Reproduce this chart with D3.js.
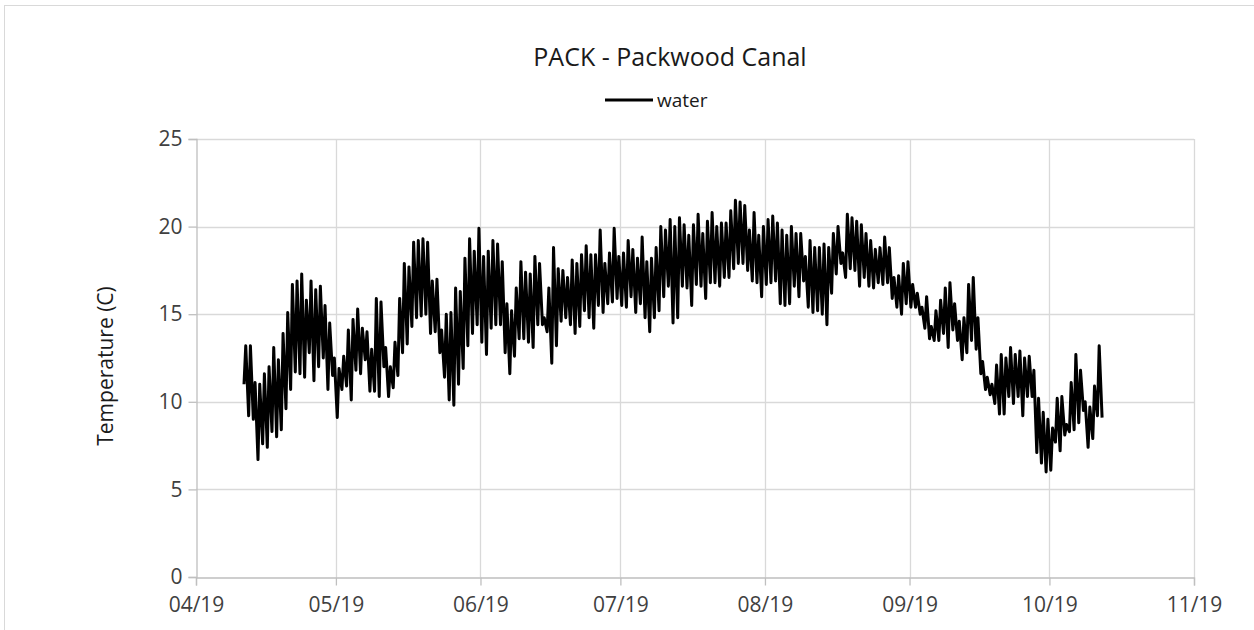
<!DOCTYPE html>
<html>
<head>
<meta charset="utf-8">
<script src="https://cdn.jsdelivr.net/npm/d3@7/dist/d3.min.js"></script>
<style>
  body { margin: 0; background: #fff; }
  svg { display: block; font-family: "Open Sans", sans-serif; }
</style>
</head>
<body>
<svg id="chart" width="1254" height="630"></svg>
<script>
// --- Data --------------------------------------------------
const chartTitle = "PACK - Packwood Canal";
const seriesName = "water";
const yTitle = "Temperature (C)";

// first logged day, then one morning low and one afternoon high per day
const firstDay = "2019-04-11";
const dailyLow = [
  11.0, 9.2, 9.0, 6.7, 7.6, 7.4, 8.3, 8.0, 8.4, 9.6, 10.7, 11.7, 11.6, 11.4, 12.8, 11.2, 12.0, 12.5, 10.7, 11.5,
  9.1, 10.7, 10.9, 10.1, 11.8, 11.6, 12.4, 10.6, 10.6, 10.3, 12.0, 10.3, 10.8, 11.5, 12.8, 13.3, 14.3, 14.8, 14.9, 15.0, 13.9, 14.0, 12.8, 11.4,
  10.1, 9.8, 11.0, 11.9, 13.2, 13.9, 14.4, 13.4, 12.7, 14.2, 14.4, 14.4, 12.8, 11.6, 12.6, 13.6, 13.6, 13.4, 13.1, 14.4, 14.4, 14.0,
  12.2, 13.2, 14.6, 14.8, 14.4, 13.9, 14.3, 15.2, 14.8, 14.2, 15.5, 15.1, 15.6, 15.7, 15.9, 15.5, 15.4, 16.0, 15.1, 15.6, 14.8, 14.0, 14.8, 15.2,
  16.0, 16.6, 14.5, 14.8, 16.6, 16.5, 15.5, 16.7, 16.6, 15.9, 16.8, 16.8, 16.6, 17.1, 17.1, 17.6, 17.9, 17.9, 17.5, 16.9, 16.8,
  16.0, 16.7, 16.8, 16.9, 15.6, 15.5, 15.6, 16.6, 16.0, 16.9, 15.4, 15.1, 15.2, 15.0, 14.4, 16.2, 17.3, 17.9, 17.1, 17.6, 17.5, 16.6,
  17.1, 16.6, 16.5, 16.8, 16.7, 16.8, 15.9, 15.4, 15.0, 15.6, 15.4, 15.4, 15.0, 14.2, 13.6, 13.5, 13.5, 13.9, 13.1, 14.1, 13.5, 12.4, 12.8,
  13.5, 13.0, 11.6, 10.7, 10.4, 9.9, 9.3, 9.3, 10.3, 9.9, 10.3, 9.2, 10.3, 10.3, 7.1, 6.5, 6.0, 6.1, 7.7, 7.2, 8.1, 8.3, 8.4, 8.8, 9.5, 7.4, 7.9, 9.2
];
const dailyHigh = [
  13.2, 13.2, 11.1, 11.0, 11.6, 12.0, 13.1, 12.4, 13.9, 15.1, 16.7, 16.9, 17.3, 15.8, 16.9, 16.4, 16.6, 15.5, 14.5, 12.5,
  11.9, 12.6, 14.1, 14.7, 15.3, 14.2, 14.0, 13.0, 15.9, 15.7, 13.1, 12.0, 13.4, 15.9, 17.9, 17.7, 19.1, 19.2, 19.3, 19.1, 16.9, 17.0, 14.1, 15.0,
  15.1, 16.5, 16.3, 18.2, 19.3, 18.6, 19.9, 18.3, 18.6, 19.2, 19.0, 18.0, 15.6, 15.2, 16.5, 18.0, 17.4, 17.3, 18.3, 17.9, 14.8, 16.5,
  18.8, 17.6, 17.5, 17.1, 18.1, 17.9, 18.4, 18.9, 18.4, 18.4, 19.8, 17.9, 18.5, 19.9, 18.3, 18.5, 19.2, 18.7, 18.2, 19.4, 18.0, 18.2, 18.8, 20.0,
  19.8, 20.4, 20.0, 20.5, 20.1, 19.5, 20.1, 20.7, 19.6, 20.3, 20.8, 20.0, 20.2, 20.2, 20.9, 21.5, 21.4, 21.2, 19.8, 20.8, 19.5,
  20.0, 20.4, 20.6, 20.2, 19.8, 19.5, 20.0, 19.6, 19.6, 18.3, 19.2, 18.8, 18.8, 19.0, 18.8, 19.6, 20.0, 18.5, 20.7, 20.5, 20.3, 20.1,
  19.6, 19.2, 18.7, 18.8, 19.4, 18.8, 17.1, 17.2, 17.9, 18.0, 16.7, 16.2, 15.4, 16.0, 14.3, 15.2, 15.8, 16.5, 16.8, 15.6, 14.6, 14.8, 16.7,
  17.1, 14.8, 12.3, 11.4, 11.0, 12.1, 12.7, 12.5, 13.1, 12.7, 12.9, 12.5, 12.6, 11.8, 10.2, 9.4, 9.0, 8.5, 10.2, 10.3, 8.7, 11.1, 12.7, 11.8, 10.0, 9.7, 10.9, 13.2
];
const lastReading = 9.1;

const yTicks = [0, 5, 10, 15, 20, 25];
const monthTicks = ["2019-04-01", "2019-05-01", "2019-06-01", "2019-07-01",
                    "2019-08-01", "2019-09-01", "2019-10-01", "2019-11-01"];

// --- Layout ----------------------------------------------
const plot = {left: 196, right: 1194, top: 139, bottom: 577};
const parse = d3.timeParse("%Y-%m-%d");
const months = monthTicks.map(parse);

const svg = d3.select("#chart");

// chart area border
svg.append("rect")
  .attr("x", 4.5).attr("y", 5.5)
  .attr("width", 1260).attr("height", 640)
  .attr("fill", "#fff")
  .attr("stroke", "#d9d9d9");

const x = d3.scaleTime()
  .domain([months[0], months[months.length - 1]])
  .range([plot.left, plot.right]);

const y = d3.scaleLinear()
  .domain([0, 25])
  .range([plot.bottom, plot.top]);

// --- Gridlines -------------------------------------------
svg.append("g")
  .selectAll("line")
  .data(yTicks.slice(1))
  .join("line")
  .attr("x1", plot.left).attr("x2", plot.right)
  .attr("y1", d => Math.round(y(d)) + 0.5).attr("y2", d => Math.round(y(d)) + 0.5)
  .attr("stroke", "#d9d9d9").attr("stroke-width", 1.3);

svg.append("g")
  .selectAll("line")
  .data(months.slice(1))
  .join("line")
  .attr("x1", d => Math.round(x(d)) + 0.5).attr("x2", d => Math.round(x(d)) + 0.5)
  .attr("y1", plot.top).attr("y2", plot.bottom)
  .attr("stroke", "#d9d9d9").attr("stroke-width", 1.3);

// --- Axes ------------------------------------------------
const xAxis = svg.append("g")
  .attr("transform", `translate(0,${plot.bottom + 0.5})`)
  .call(d3.axisBottom(x)
    .tickValues(months)
    .tickFormat(d3.timeFormat("%m/%y"))
    .tickSizeOuter(0)
    .tickSize(8)
    .tickPadding(12));

const yAxis = svg.append("g")
  .attr("transform", `translate(${plot.left + 0.5},0)`)
  .call(d3.axisLeft(y)
    .tickValues(yTicks)
    .tickSizeOuter(0)
    .tickSize(8)
    .tickPadding(6));

[xAxis, yAxis].forEach(a => {
  a.select(".domain").attr("stroke", "#bfbfbf").attr("stroke-width", 1.3);
  a.selectAll(".tick line").attr("stroke", "#bfbfbf").attr("stroke-width", 1.3);
  a.selectAll(".tick text")
    .attr("fill", "#404040")
    .style("font-size", "21px")
    .style("font-family", "'Open Sans', sans-serif");
});

// --- The series ------------------------------------------
const start = parse(firstDay);
const readings = [];
dailyLow.forEach((lo, i) => {
  const day = d3.timeDay.offset(start, i);
  readings.push({t: d3.timeHour.offset(day, 7), v: lo});
  readings.push({t: d3.timeHour.offset(day, 16), v: dailyHigh[i]});
});
readings.push({t: d3.timeHour.offset(d3.timeDay.offset(start, dailyLow.length), 7), v: lastReading});

const line = d3.line()
  .x(d => x(d.t))
  .y(d => y(d.v));

svg.append("path")
  .datum(readings)
  .attr("d", line)
  .attr("fill", "none")
  .attr("stroke", "#000")
  .attr("stroke-width", 3)
  .attr("stroke-linejoin", "round");

// --- Titles and legend -----------------------------------
svg.append("text")
  .attr("x", 670).attr("y", 66)
  .attr("text-anchor", "middle")
  .attr("fill", "#1a1a1a")
  .style("font-size", "25px")
  .text(chartTitle);

svg.append("text")
  .attr("transform", "translate(113,366) rotate(-90)")
  .attr("text-anchor", "middle")
  .attr("fill", "#1a1a1a")
  .style("font-size", "21px")
  .text(yTitle);

const legend = svg.append("g").attr("transform", "translate(605,100)");
legend.append("line")
  .attr("x1", 0).attr("x2", 48)
  .attr("stroke", "#000").attr("stroke-width", 3);
legend.append("text")
  .attr("x", 52).attr("y", 6.5)
  .attr("fill", "#1a1a1a")
  .style("font-size", "19px")
  .text(seriesName);
</script>
</body>
</html>
